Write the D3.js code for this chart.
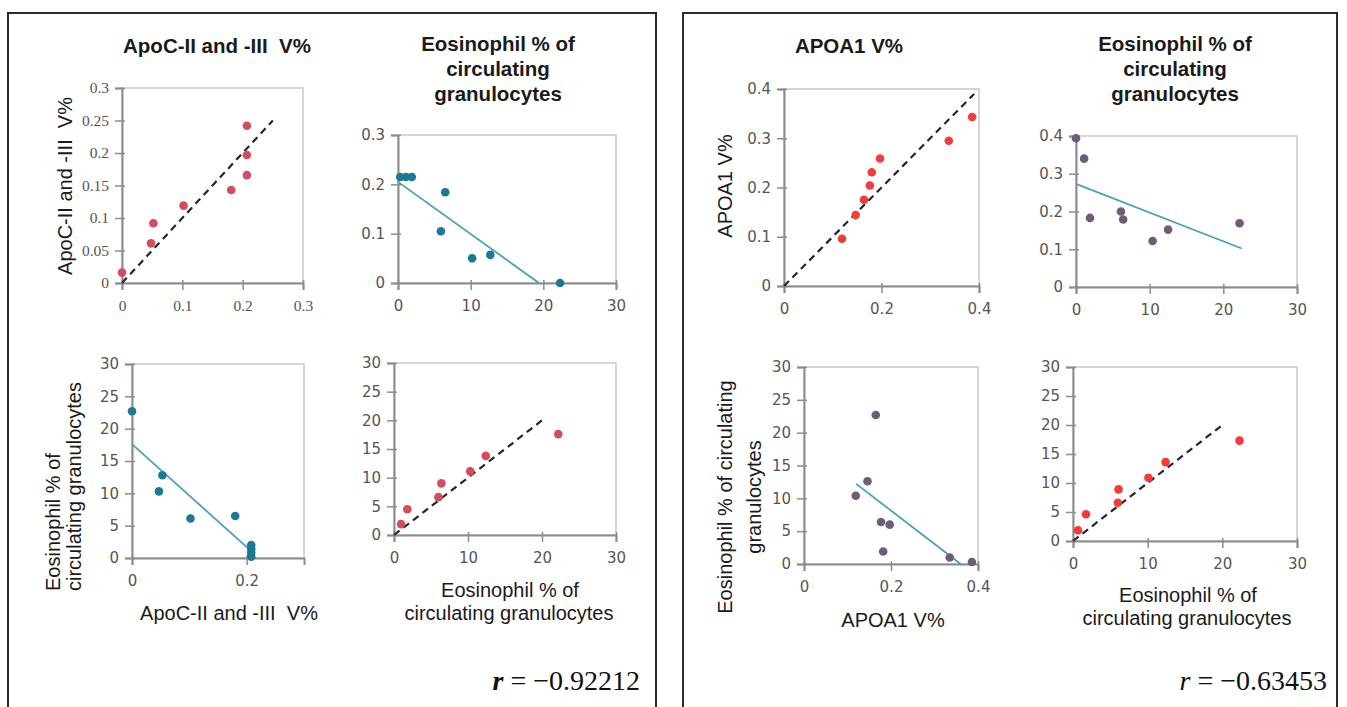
<!DOCTYPE html>
<html>
<head>
<meta charset="utf-8">
<script src="https://cdn.jsdelivr.net/npm/d3@7/dist/d3.min.js"></script>
<style>
  body { margin: 0; background: #fff; }
  svg { display: block; }
  text { white-space: pre; }
</style>
</head>
<body>
<svg width="1347" height="707"></svg>
<script>
const apocObs = [0, 0.048, 0.052, 0.102, 0.181, 0.207, 0.207, 0.207];
const apocPred = [0.016, 0.061, 0.092, 0.119, 0.143, 0.242, 0.197, 0.166];

const eosX2 = [0.3, 1.1, 1.9, 5.9, 6.5, 10.2, 12.7, 22.3];
const apocY2 = [0.215, 0.215, 0.215, 0.105, 0.184, 0.05, 0.057, 0.0];
const fit2 = [[0, 0.205], [19.4, 0]];

const apocX3 = [0, 0.047, 0.053, 0.102, 0.18, 0.208, 0.208, 0.208, 0.208];
const eosY3 = [22.7, 10.3, 12.8, 6.1, 6.5, 2.0, 1.4, 0.8, 0.2];
const fit3 = [[0, 17.6], [0.205, 1.3]];

const eosObs4 = [0.95, 1.8, 6.0, 6.4, 10.3, 12.4, 22.2];
const eosPred4 = [1.9, 4.5, 6.6, 9.0, 11.1, 13.8, 17.6];

const apoaObs = [0.119, 0.147, 0.164, 0.176, 0.18, 0.197, 0.338, 0.386];
const apoaPred = [0.096, 0.144, 0.175, 0.204, 0.231, 0.259, 0.295, 0.343];

const eosX6 = [0, 1.1, 1.9, 6.1, 6.4, 10.4, 12.5, 22.2];
const apoaY6 = [0.394, 0.34, 0.183, 0.2, 0.179, 0.122, 0.152, 0.169];
const fit6 = [[0, 0.273], [22.5, 0.102]];

const apoaX7 = [0.165, 0.146, 0.119, 0.177, 0.197, 0.182, 0.335, 0.386];
const eosY7 = [22.7, 12.6, 10.4, 6.4, 6.0, 1.9, 1.0, 0.3];
const fit7 = [[0.12, 12.2], [0.36, 0]];

const eosObs8 = [0.67, 1.74, 6.0, 6.1, 10.1, 12.4, 22.3];
const eosPred8 = [1.85, 4.6, 6.6, 8.9, 10.9, 13.6, 17.3];

// identity reference lines (dashed)
const diag1 = [[0, 0], [0.25, 0.25]];
const diag4 = [[0, 0], [20, 20]];
const diag5 = [[0, 0], [0.39, 0.39]];

// tick labels
const ticksApoc = [0, 0.05, 0.1, 0.15, 0.2, 0.25, 0.3];
const ticksApocX = [0, 0.1, 0.2, 0.3];
const ticksApocShort = [0, 0.2];
const ticksTenth3 = [0, 0.1, 0.2, 0.3];
const ticksTenth4 = [0, 0.1, 0.2, 0.3, 0.4];
const ticksApoa = [0, 0.2, 0.4];
const ticksEos = [0, 10, 20, 30];
const ticksEos5 = [0, 5, 10, 15, 20, 25, 30];

const titles = {
  apoc: 'ApoC-II and -III  V%',
  eos: ['Eosinophil % of', 'circulating', 'granulocytes'],
  apoa: 'APOA1 V%'
};
const rLeft = '\u22120.92212';
const rRight = '\u22120.63453';

const svg = d3.select('svg');

// panel frames
const frame = '#2b2b2b';
[[8, 656], [683, 1337]].forEach(([x0, x1]) => {
  svg.append('path')
    .attr('d', `M${x0},707 V13 H${x1} V707`)
    .attr('fill', 'none')
    .attr('stroke', frame)
    .attr('stroke-width', 2);
});

const red1 = '#d24d5e';
const teal = '#1d7896';
const tealLine = '#4aa2b6';
const red2 = '#f23c3c';
const mauve = '#6e5c78';

const zip = (xs, ys) => xs.map((x, i) => [x, ys[i]]);

function scatter(c) {
  const [x0, x1, y0, y1] = c.box;
  const x = d3.scaleLinear().domain(c.xd).range([x0, x1]);
  const y = d3.scaleLinear().domain(c.yd).range([y1, y0]);
  const g = svg.append('g');

  g.append('rect')
    .attr('x', x0).attr('y', y0)
    .attr('width', x1 - x0).attr('height', y1 - y0)
    .attr('fill', 'none').attr('stroke', '#c9c9c9').attr('stroke-width', 1.5);

  const font = c.serifTicks ? 'Liberation Serif' : 'DejaVu Sans';
  const fs = c.serifTicks ? 15.5 : 15;

  const ya = g.append('g').attr('transform', `translate(${x0},0)`)
    .call(d3.axisLeft(y).tickValues(c.yt).tickFormat(d => String(d))
      .tickSizeOuter(0).tickSize(7).tickPadding(6));
  const xa = g.append('g').attr('transform', `translate(0,${y1})`)
    .call(d3.axisBottom(x).tickValues(c.xt).tickFormat(d => String(d))
      .tickSizeOuter(0).tickSize(7).tickPadding(10));

  [ya, xa].forEach(a => {
    a.select('.domain').attr('stroke', '#8c8c8c').attr('stroke-width', 2);
    a.selectAll('.tick line').attr('stroke', '#8c8c8c').attr('stroke-width', 1.5);
    a.selectAll('.tick text')
      .attr('fill', '#555')
      .style('font-family', font)
      .style('font-size', fs + 'px');
  });
  ya.selectAll('.tick line').attr('x1', 3);
  xa.selectAll('.tick line').attr('y1', -3);

  const line = d3.line().x(d => x(d[0])).y(d => y(d[1]));
  if (c.diag) {
    g.append('path').datum(c.diag).attr('d', line)
      .attr('stroke', '#262626').attr('stroke-width', 2.2)
      .attr('stroke-dasharray', '7,5').attr('fill', 'none');
  }
  if (c.fit) {
    g.append('path').datum(c.fit).attr('d', line)
      .attr('stroke', tealLine).attr('stroke-width', 1.8).attr('fill', 'none');
  }
  g.selectAll('circle.pt').data(c.pts).join('circle')
    .attr('class', 'pt')
    .attr('cx', d => x(d[0])).attr('cy', d => y(d[1]))
    .attr('r', 4.3).attr('fill', c.color);
}

scatter({ box: [122, 303, 88, 283], xd: [0, 0.3], yd: [0, 0.3], xt: ticksApocX, yt: ticksApoc,
  pts: zip(apocObs, apocPred), diag: diag1, color: red1, serifTicks: true });
scatter({ box: [398, 616, 135, 283], xd: [0, 30], yd: [0, 0.3], xt: ticksEos, yt: ticksTenth3,
  pts: zip(eosX2, apocY2), fit: fit2, color: teal });
scatter({ box: [132, 304, 364, 558], xd: [0, 0.3], yd: [0, 30], xt: ticksApocShort, yt: ticksEos5,
  pts: zip(apocX3, eosY3), fit: fit3, color: teal });
scatter({ box: [394, 616, 363, 535], xd: [0, 30], yd: [0, 30], xt: ticksEos, yt: ticksEos5,
  pts: zip(eosObs4, eosPred4), diag: diag4, color: red1 });

scatter({ box: [784, 979, 89, 286], xd: [0, 0.4], yd: [0, 0.4], xt: ticksApoa, yt: ticksTenth4,
  pts: zip(apoaObs, apoaPred), diag: diag5, color: red2 });
scatter({ box: [1076, 1297, 136, 287], xd: [0, 30], yd: [0, 0.4], xt: ticksEos, yt: ticksTenth4,
  pts: zip(eosX6, apoaY6), fit: fit6, color: mauve });
scatter({ box: [804, 978, 367, 564], xd: [0, 0.4], yd: [0, 30], xt: ticksApoa, yt: ticksEos5,
  pts: zip(apoaX7, eosY7), fit: fit7, color: mauve });
scatter({ box: [1073, 1297, 367, 541], xd: [0, 30], yd: [0, 30], xt: ticksEos, yt: ticksEos5,
  pts: zip(eosObs8, eosPred8), diag: diag4, color: red2 });

// text
const sans = 'Liberation Sans, Arial, sans-serif';
function txt(str, x, y, o = {}) {
  const t = svg.append('text')
    .attr('x', x).attr('y', y)
    .attr('text-anchor', o.anchor || 'middle')
    .attr('dominant-baseline', 'central')
    .attr('fill', o.fill || '#1a1a1a')
    .style('font-family', o.family || sans)
    .style('font-size', (o.size || 20) + 'px')
    .style('font-weight', o.bold ? 'bold' : 'normal')
    .text(str);
  if (o.rot) t.attr('transform', `rotate(-90,${x},${y})`);
  return t;
}

// column titles
txt(titles.apoc, 217, 45, { bold: true, size: 20.5 });
titles.eos.forEach((s, i) => txt(s, 498, 43 + i * 25, { bold: true, size: 20.5 }));
txt(titles.apoa, 849, 45, { bold: true, size: 20.5 });
titles.eos.forEach((s, i) => txt(s, 1175, 43 + i * 25, { bold: true, size: 20.5 }));

// axis labels
txt(titles.apoc, 65, 186, { rot: true });
txt(titles.eos[0], 53, 591, { rot: true, anchor: 'start' });
txt(titles.eos[1] + ' ' + titles.eos[2], 74, 591, { rot: true, anchor: 'start' });
txt(titles.apoc, 229, 613);
txt(titles.eos[0], 510, 590);
txt(titles.eos[1] + ' ' + titles.eos[2], 509, 613);

txt(titles.apoa, 725, 186, { rot: true });
txt(titles.eos[0] + ' ' + titles.eos[1], 725, 497, { rot: true });
txt(titles.eos[2], 754, 497, { rot: true });
txt(titles.apoa, 893, 620);
txt(titles.eos[0], 1188, 595);
txt(titles.eos[1] + ' ' + titles.eos[2], 1187, 618);

// correlation coefficients
function rLabel(val, xRight, y, bold) {
  const t = svg.append('text')
    .attr('x', xRight).attr('y', y)
    .attr('text-anchor', 'end')
    .attr('dominant-baseline', 'central')
    .attr('fill', '#111')
    .style('font-family', 'Liberation Serif, serif')
    .style('font-size', '28px');
  t.append('tspan').style('font-style', 'italic').style('font-weight', bold ? 'bold' : 'normal').text('r');
  t.append('tspan').text(' = ' + val);
}
rLabel(rLeft, 640, 680, true);
rLabel(rRight, 1327, 680, false);
</script>
</body>
</html>
